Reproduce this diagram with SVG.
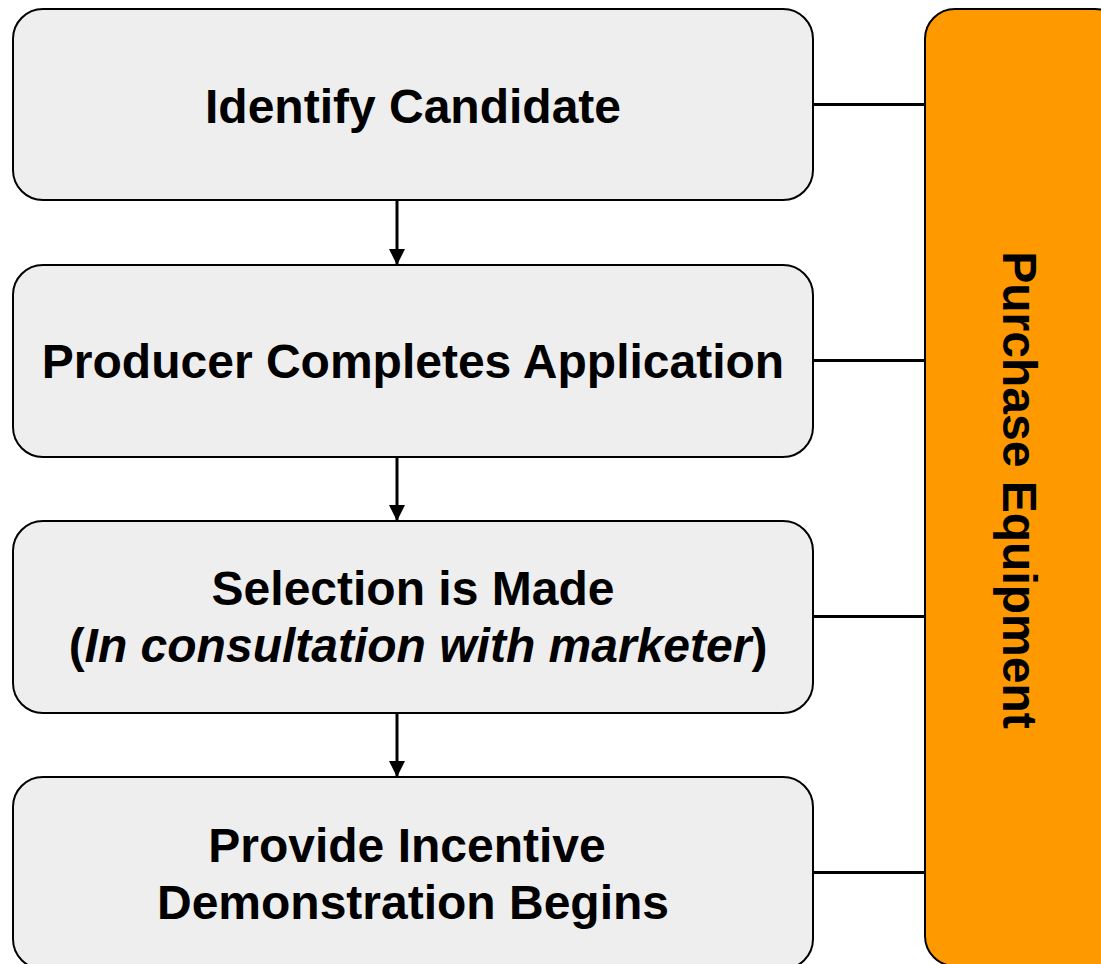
<svg xmlns="http://www.w3.org/2000/svg" width="1101" height="964" viewBox="0 0 1101 964">
<style>
.box{fill:#eeeeee;stroke:#000;stroke-width:2}
.side{fill:#ff9900;stroke:#000;stroke-width:2}
.t{font-family:"Liberation Sans",Arial,sans-serif;font-weight:bold;font-size:48px;fill:#000;text-anchor:middle}
.c{stroke:#000;stroke-width:3;fill:none}
</style>
<defs>
<marker id="ah" markerUnits="userSpaceOnUse" markerWidth="16" markerHeight="16" refX="16" refY="8" orient="auto">
<path d="M0,0 L16,8 L0,16 Z" fill="#000"/>
</marker>
</defs>
<rect width="1101" height="964" fill="#fff"/>
<g id="connectors">
<line class="c" x1="397" y1="201" x2="397" y2="265" marker-end="url(#ah)"/>
<line class="c" x1="397" y1="457" x2="397" y2="521" marker-end="url(#ah)"/>
<line class="c" x1="397" y1="713" x2="397" y2="777" marker-end="url(#ah)"/>
<line class="c" x1="813" y1="104.5" x2="925" y2="104.5"/>
<line class="c" x1="813" y1="360.5" x2="925" y2="360.5"/>
<line class="c" x1="813" y1="616.5" x2="925" y2="616.5"/>
<line class="c" x1="813" y1="872.5" x2="925" y2="872.5"/>
</g>
<g id="purchase">
<rect class="side" x="925" y="9" width="200" height="957" rx="30" ry="30"/>
<text class="t" transform="translate(1003,490) rotate(90)" x="0" y="0">Purchase Equipment</text>
</g>
<g id="identify">
<rect class="box" x="13" y="9" width="800" height="191" rx="30" ry="30"/>
<text class="t" x="413" y="123">Identify Candidate</text>
</g>
<g id="producer">
<rect class="box" x="13" y="265" width="800" height="192" rx="30" ry="30"/>
<text class="t" x="413" y="378">Producer Completes Application</text>
</g>
<g id="selection">
<rect class="box" x="13" y="521" width="800" height="192" rx="30" ry="30"/>
<text class="t" x="413" y="605">Selection is Made</text>
<text class="t" x="418" y="662">(<tspan font-style="italic">In consultation with marketer</tspan>)</text>
</g>
<g id="incentive">
<rect class="box" x="13" y="777" width="800" height="192" rx="30" ry="30"/>
<text class="t" x="407" y="862">Provide Incentive</text>
<text class="t" x="413" y="919">Demonstration Begins</text>
</g>
</svg>
